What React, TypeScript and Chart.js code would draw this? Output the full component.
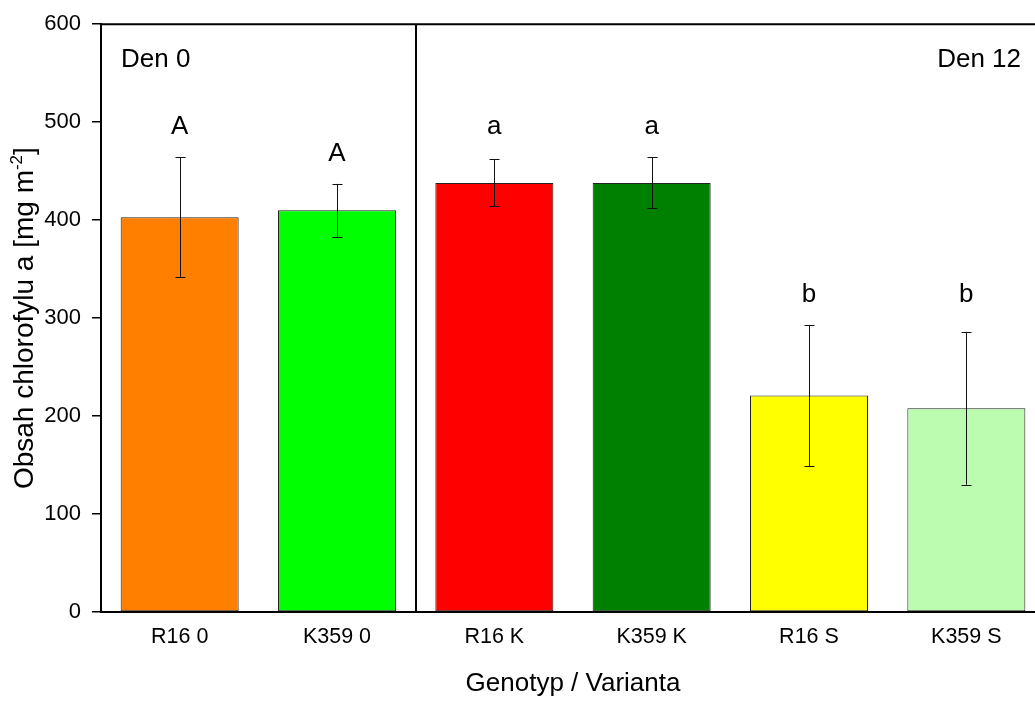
import React, { useEffect, useRef } from "react";
import { Chart, registerables } from "chart.js";

Chart.register(...registerables);

// Chlorophyll a content per genotype / treatment
const categories = ["R16 0", "K359 0", "R16 K", "K359 K", "R16 S", "K359 S"];
const means = [403, 410, 438, 438, 221, 208];
const sd = [61, 27, 24, 26, 72, 78];
const groupLetters = ["A", "A", "a", "a", "b", "b"];
// bars sharing a row id get their letters on a common line
const letterRow = [0, 1, 2, 2, 3, 3];
const barColors = ["#FF8000", "#00FF00", "#FF0000", "#008000", "#FFFF00", "#BCFCB0"];
const yTicks = [0, 100, 200, 300, 400, 500, 600];
const dayLabels = ["Den 0", "Den 12"];

const FONT = "'Liberation Sans', Arial, Helvetica, sans-serif";

const annotations = {
  id: "annotations",
  afterDatasetsDraw(chart: any) {
    const { ctx, scales } = chart;
    const x = scales.x;
    const y = scales.y;
    ctx.save();
    // error bars
    ctx.strokeStyle = "#111";
    ctx.lineWidth = 1;
    means.forEach((m, i) => {
      const cx = Math.round(x.getPixelForValue(i)) + 0.5;
      const top = y.getPixelForValue(m + sd[i]);
      const bot = y.getPixelForValue(m - sd[i]);
      ctx.beginPath();
      ctx.moveTo(cx, top);
      ctx.lineTo(cx, bot);
      ctx.moveTo(cx - 5, Math.round(top) + 0.5);
      ctx.lineTo(cx + 5, Math.round(top) + 0.5);
      ctx.moveTo(cx - 5, Math.round(bot) + 0.5);
      ctx.lineTo(cx + 5, Math.round(bot) + 0.5);
      ctx.stroke();
    });
    // significance letters, above the highest error bar of their row
    ctx.fillStyle = "#000";
    ctx.font = `26px ${FONT}`;
    ctx.textAlign = "center";
    ctx.textBaseline = "alphabetic";
    means.forEach((_, i) => {
      let highest = 0;
      means.forEach((m2, j) => {
        if (letterRow[j] === letterRow[i]) highest = Math.max(highest, m2 + sd[j]);
      });
      ctx.fillText(groupLetters[i], x.getPixelForValue(i), y.getPixelForValue(highest) - 23);
    });
    ctx.restore();
  },
  afterDraw(chart: any) {
    const { ctx, chartArea, scales } = chart;
    const x = scales.x;
    ctx.save();
    ctx.strokeStyle = "#000";
    ctx.lineWidth = 2;
    // top frame line
    ctx.beginPath();
    ctx.moveTo(chartArea.left - 1, chartArea.top);
    ctx.lineTo(chartArea.right, chartArea.top);
    ctx.stroke();
    // divider between the two sampling days
    const sep = Math.round((x.getPixelForValue(1) + x.getPixelForValue(2)) / 2);
    ctx.beginPath();
    ctx.moveTo(sep, chartArea.top);
    ctx.lineTo(sep, chartArea.bottom);
    ctx.stroke();

    ctx.fillStyle = "#000";
    ctx.font = `26px ${FONT}`;
    ctx.textBaseline = "alphabetic";
    ctx.textAlign = "left";
    ctx.fillText(dayLabels[0], chartArea.left + 20, 67);
    ctx.textAlign = "right";
    ctx.fillText(dayLabels[1], 1021, 67);

    // x axis title
    ctx.textAlign = "center";
    ctx.fillText("Genotyp / Varianta", (chartArea.left + chartArea.right) / 2, 691);

    // y axis title with superscript
    const mainText = "Obsah chlorofylu a [mg m";
    const supText = "-2";
    const endText = "]";
    const mainFont = `28px ${FONT}`;
    const supFont = `17px ${FONT}`;
    ctx.font = mainFont;
    const w1 = ctx.measureText(mainText).width;
    const w3 = ctx.measureText(endText).width;
    ctx.font = supFont;
    const w2 = ctx.measureText(supText).width;
    const total = w1 + w2 + w3;
    ctx.translate(33, (chartArea.top + chartArea.bottom) / 2);
    ctx.rotate(-Math.PI / 2);
    ctx.textAlign = "left";
    let pos = -total / 2;
    ctx.font = mainFont;
    ctx.fillText(mainText, pos, 0);
    pos += w1;
    ctx.font = supFont;
    ctx.fillText(supText, pos, -11);
    pos += w2;
    ctx.font = mainFont;
    ctx.fillText(endText, pos, 0);
    ctx.restore();
  },
};

export default function App() {
  const canvasRef = useRef<HTMLCanvasElement>(null);

  useEffect(() => {
    if (!canvasRef.current) return;
    const chart = new Chart(canvasRef.current, {
      type: "bar",
      data: {
        labels: categories,
        datasets: [
          {
            data: means,
            backgroundColor: barColors,
            borderColor: "#222",
            borderWidth: 1,
            borderSkipped: false,
            categoryPercentage: 1,
            barPercentage: 0.75,
          },
        ],
      },
      options: {
        responsive: false,
        animation: false,
        layout: { padding: { left: 0, right: 15, top: 21, bottom: 0 } },
        plugins: {
          legend: { display: false },
          tooltip: { enabled: false },
          title: { display: false },
        },
        scales: {
          x: {
            type: "category",
            grid: { display: false, drawTicks: false },
            border: { display: true, color: "#000", width: 2 },
            ticks: {
              color: "#000",
              font: { family: FONT, size: 21.5 },
              padding: 12,
              maxRotation: 0,
            },
            afterFit: (axis: any) => {
              axis.height = 92;
            },
          },
          y: {
            type: "linear",
            min: 0,
            max: 600,
            afterBuildTicks: (axis: any) => {
              axis.ticks = yTicks.map((v) => ({ value: v }));
            },
            grid: {
              display: true,
              drawOnChartArea: false,
              drawTicks: true,
              tickLength: 9,
              color: "#000",
              lineWidth: 1.5,
            },
            border: { display: true, color: "#000", width: 2 },
            ticks: {
              color: "#000",
              font: { family: FONT, size: 22 },
              padding: 11,
            },
            afterFit: (axis: any) => {
              axis.width = 101;
            },
          },
        },
      },
      plugins: [annotations],
    });
    return () => chart.destroy();
  }, []);

  return (
    <div
      style={{
        position: "fixed",
        left: 0,
        top: 0,
        width: 1035,
        height: 704,
        overflow: "hidden",
        background: "#fff",
      }}
    >
      <canvas ref={canvasRef} width={1060} height={704} style={{ width: 1060, height: 704, display: "block" }} />
    </div>
  );
}
